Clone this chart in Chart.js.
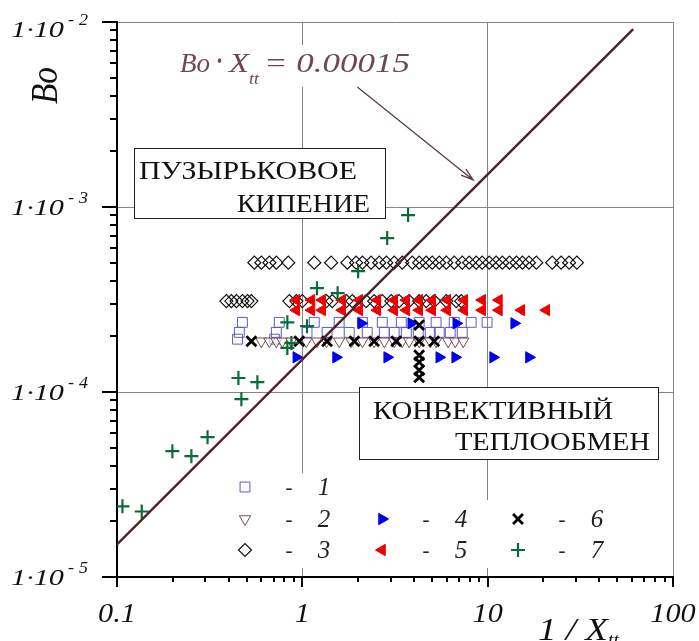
<!DOCTYPE html>
<html>
<head>
<meta charset="utf-8">
<script src="https://cdn.jsdelivr.net/npm/chart.js@4/dist/chart.umd.min.js"></script>
<style>
  html, body { margin: 0; padding: 0; background: #fff; }
  canvas { display: block; }
</style>
</head>
<body>
<canvas id="boChart" width="699" height="641"></canvas>
<script>
// 1 - squares
const sqX = [0.475, 0.751, 1.16, 1.58, 2.11, 2.70, 3.42, 4.27, 5.27, 6.60, 8.15, 9.93,
             0.457, 0.724, 1.06, 1.36, 1.79, 2.24, 2.77, 3.13, 3.64, 4.22, 4.90, 5.48, 6.28, 7.29,
             0.447, 0.709];
const sqY = [2.38e-4, 2.38e-4, 2.38e-4, 2.38e-4, 2.38e-4, 2.38e-4, 2.38e-4, 2.38e-4, 2.38e-4, 2.38e-4, 2.38e-4, 2.38e-4,
             2.10e-4, 2.10e-4, 2.10e-4, 2.10e-4, 2.10e-4, 2.10e-4, 2.10e-4, 2.10e-4, 2.10e-4, 2.10e-4, 2.10e-4, 2.10e-4, 2.10e-4, 2.10e-4,
             1.93e-4, 1.93e-4];
// 2 - triangles down
const triDX = [0.601, 0.664, 0.724, 0.780, 0.872, 1.05, 1.20, 1.35, 1.58, 1.84, 2.11, 2.44, 2.77, 3.13, 3.46, 3.77, 4.27, 4.90, 5.27, 6.12, 6.68, 7.38];
const triDY = [1.88e-4, 1.88e-4, 1.88e-4, 1.88e-4, 1.88e-4, 1.88e-4, 1.88e-4, 1.88e-4, 1.88e-4, 1.88e-4, 1.88e-4,
               1.88e-4, 1.88e-4, 1.88e-4, 1.88e-4, 1.88e-4, 1.88e-4, 1.88e-4, 1.88e-4, 1.88e-4, 1.88e-4, 1.88e-4];
// 3 - diamonds
const dmX = [0.551, 0.601, 0.664, 0.724, 0.840, 1.16, 1.43, 1.75, 1.95, 2.11, 2.35, 2.60, 2.84, 3.13, 3.46, 3.92, 4.27, 4.66, 5.02,
             5.48, 5.98, 6.60, 7.29, 7.95, 8.67, 9.34, 10.2, 11.1, 12.0, 13.1, 14.3, 15.4, 16.7, 18.3, 22.3, 24.9, 27.5, 30.3,
             0.389, 0.414, 0.441, 0.475, 0.506, 0.531, 0.851, 0.928, 1.00, 1.35, 1.45, 1.73, 1.86, 2.21, 2.44, 2.70, 3.02,
             3.33, 3.77, 4.27, 4.66, 5.15, 5.98, 6.77, 7.20];
const dmY = [5.0e-4, 5.0e-4, 5.0e-4, 5.0e-4, 5.0e-4, 5.0e-4, 5.0e-4, 5.0e-4, 5.0e-4, 5.0e-4, 5.0e-4, 5.0e-4, 5.0e-4, 5.0e-4, 5.0e-4,
             5.0e-4, 5.0e-4, 5.0e-4, 5.0e-4, 5.0e-4, 5.0e-4, 5.0e-4, 5.0e-4, 5.0e-4, 5.0e-4, 5.0e-4, 5.0e-4, 5.0e-4, 5.0e-4,
             5.0e-4, 5.0e-4, 5.0e-4, 5.0e-4, 5.0e-4, 5.0e-4, 5.0e-4, 5.0e-4, 5.0e-4,
             3.1e-4, 3.1e-4, 3.1e-4, 3.1e-4, 3.1e-4, 3.1e-4, 3.1e-4, 3.1e-4, 3.1e-4, 3.1e-4, 3.1e-4, 3.1e-4, 3.1e-4,
             3.1e-4, 3.1e-4, 3.1e-4, 3.1e-4, 3.1e-4, 3.1e-4, 3.1e-4, 3.1e-4, 3.1e-4, 3.1e-4, 3.1e-4, 3.1e-4];
// 4 - blue right triangles
const triRX = [0.928, 1.52, 2.87, 5.48, 6.68, 10.7, 16.7, 2.08, 3.87, 6.77, 13.9];
const triRY = [1.54e-4, 1.54e-4, 1.54e-4, 1.54e-4, 1.54e-4, 1.54e-4, 1.54e-4, 2.35e-4, 2.35e-4, 2.35e-4, 2.35e-4];
// 5 - red left triangles
const triLX = [0.928, 1.12, 1.28, 1.64, 2.03, 2.54, 3.13, 3.64, 4.27, 5.02, 6.05, 7.47, 9.34, 11.5,
               0.928, 1.12, 1.28, 1.64, 2.03, 2.54, 3.13, 3.64, 4.27, 5.02, 6.05, 7.47, 9.34, 11.5, 15.2, 20.7];
const triLY = [3.14e-4, 3.14e-4, 3.14e-4, 3.14e-4, 3.14e-4, 3.14e-4, 3.14e-4, 3.14e-4, 3.14e-4, 3.14e-4, 3.14e-4, 3.14e-4, 3.14e-4, 3.14e-4,
               2.77e-4, 2.77e-4, 2.77e-4, 2.77e-4, 2.77e-4, 2.77e-4, 2.77e-4, 2.77e-4, 2.77e-4, 2.77e-4, 2.77e-4, 2.77e-4, 2.77e-4, 2.77e-4, 2.77e-4, 2.77e-4];
// 6 - crosses x
const crX = [0.531, 0.963, 1.36, 1.91, 2.44, 3.21, 4.27, 5.15, 4.27, 4.27, 4.27, 4.27, 4.27];
const crY = [1.88e-4, 1.88e-4, 1.88e-4, 1.88e-4, 1.88e-4, 1.88e-4, 1.88e-4, 1.88e-4, 2.30e-4, 1.58e-4, 1.45e-4, 1.31e-4, 1.20e-4];
// 7 - plus
const plX = [0.107, 0.136, 0.199, 0.252, 0.308, 0.452, 0.572, 0.469, 0.830, 0.873, 0.830, 1.06, 1.20, 1.55, 2.00, 2.87, 3.72];
const plY = [2.41e-5, 2.26e-5, 4.79e-5, 4.50e-5, 5.70e-5, 1.19e-4, 1.13e-4, 9.14e-5, 1.73e-4, 1.84e-4, 2.38e-4, 2.27e-4,
             3.64e-4, 3.42e-4, 4.50e-4, 6.79e-4, 9.04e-4];
// Bo*Xtt = 0.00015
const lineX = [0.1, 61];
const lineY = [1.5e-5, 9.15e-3];

const xMajor = [0.1, 1, 10, 100];
const xTickLabels = ['0.1', '1', '10', '100'];
const yMajor = [1e-5, 1e-4, 1e-3, 1e-2];
const yTickBase = '1·10';
const yTickExp = ['5', '4', '3', '2'];
const legendNames = ['1', '2', '3', '4', '5', '6', '7'];

const SERIF = '"Liberation Serif", "Times New Roman", serif';
const pts = (xs, ys) => xs.map((v, i) => ({x: v, y: ys[i]}));

function logTicks(scale) {
  const ticks = [];
  const lo = Math.round(Math.log10(scale.min));
  const hi = Math.round(Math.log10(scale.max));
  for (let e = lo; e < hi; e++) {
    for (let k = 1; k <= 9; k++) ticks.push({value: k * Math.pow(10, e), major: k === 1});
  }
  ticks.push({value: Math.pow(10, hi), major: true});
  scale.ticks = ticks;
}

function fitText(ctx, str, x, y, w, font) {
  ctx.font = font;
  const m = ctx.measureText(str).width;
  ctx.save();
  ctx.translate(x, y);
  ctx.scale(w / m, 1);
  ctx.textAlign = 'left';
  ctx.textBaseline = 'alphabetic';
  ctx.fillText(str, 0, 0);
  ctx.restore();
}

function box(ctx, x, y, w, h) {
  ctx.fillStyle = '#fff';
  ctx.fillRect(x, y, w, h);
  ctx.strokeStyle = '#222';
  ctx.lineWidth = 1;
  ctx.strokeRect(x + 0.5, y + 0.5, w, h);
}

// белые подложки, рамки с надписями
const panels = {
  id: 'panels',
  beforeDatasetsDraw(chart) {
    const ctx = chart.ctx;
    ctx.save();
    ctx.fillStyle = '#fff';
    ctx.fillRect(226, 473, 120, 95);
    ctx.fillRect(360, 500, 256, 68);
    ctx.fillRect(176, 45, 240, 42);

    box(ctx, 134, 148, 251, 70);
    box(ctx, 359, 387, 299, 72);
    ctx.fillStyle = '#111';
    fitText(ctx, 'ПУЗЫРЬКОВОЕ', 139, 179, 218, '25px ' + SERIF);
    fitText(ctx, 'КИПЕНИЕ', 237, 212, 133, '25px ' + SERIF);
    fitText(ctx, 'КОНВЕКТИВНЫЙ', 373, 419, 240, '25px ' + SERIF);
    fitText(ctx, 'ТЕПЛООБМЕН', 455, 450, 195, '25px ' + SERIF);

    // уравнение
    ctx.fillStyle = '#6d4852';
    fitText(ctx, 'Bo', 180, 72, 30, 'italic 28px ' + SERIF);
    fitText(ctx, '·', 216, 70, 7, 'bold 30px ' + SERIF);
    fitText(ctx, 'X', 229, 72, 20, 'italic 28px ' + SERIF);
    fitText(ctx, 'tt', 249, 84, 10, 'italic 17px ' + SERIF);
    fitText(ctx, '= 0.00015', 264, 72, 146, 'italic 28px ' + SERIF);
    ctx.restore();
  },
  afterDraw(chart) {
    const {ctx, chartArea: ca} = chart;
    const xs = chart.scales.x, ys = chart.scales.y;
    ctx.save();
    // засечки
    ctx.strokeStyle = '#000';
    ctx.lineWidth = 2;
    ctx.beginPath();
    ys.ticks.forEach(t => {
      const py = Math.round(ys.getPixelForValue(t.value));
      ctx.moveTo(ca.left - (t.major ? 15 : 7), py);
      ctx.lineTo(ca.left, py);
    });
    xs.ticks.forEach(t => {
      const px = Math.round(xs.getPixelForValue(t.value));
      ctx.moveTo(px, ca.bottom);
      ctx.lineTo(px, ca.bottom + (t.major ? 10 : 5));
    });
    ctx.stroke();

    // подписи осей
    ctx.fillStyle = '#111';
    yMajor.forEach((v, i) => {
      const py = ys.getPixelForValue(v);
      const b = i === yMajor.length - 1 ? py + 15 : py + 8;
      fitText(ctx, yTickBase, 11, b, 53, 'italic 23px ' + SERIF);
      fitText(ctx, '-', 68, b - 12, 6, 'italic 16px ' + SERIF);
      fitText(ctx, yTickExp[i], 79, b - 12, 9, 'italic 16px ' + SERIF);
    });
    ctx.font = 'italic 27px ' + SERIF;
    ctx.textAlign = 'center';
    xMajor.forEach((v, i) => {
      const px = xs.getPixelForValue(v);
      ctx.save();
      ctx.translate(px, 622);
      ctx.scale(1.12, 1);
      ctx.fillText(xTickLabels[i], 0, 0);
      ctx.restore();
    });

    fitText(ctx, '1 / X', 538, 640, 70, 'italic 31px ' + SERIF);
    fitText(ctx, 'tt', 608, 646, 11, 'italic 18px ' + SERIF);

    ctx.save();
    ctx.translate(57, 104);
    ctx.rotate(-Math.PI / 2);
    ctx.scale(1, 1.25);
    fitText(ctx, 'Bo', 0, 0, 37, 'italic 30px ' + SERIF);
    ctx.restore();

    // стрелка
    const ax0 = xs.getPixelForValue(1.98), ay0 = ys.getPixelForValue(4.45e-3);
    const ax1 = xs.getPixelForValue(8.35), ay1 = ys.getPixelForValue(1.40e-3);
    const ang = Math.atan2(ay1 - ay0, ax1 - ax0);
    ctx.strokeStyle = '#5a3d42';
    ctx.lineWidth = 1.3;
    ctx.beginPath();
    ctx.moveTo(ax0, ay0);
    ctx.lineTo(ax1, ay1);
    ctx.moveTo(ax1 - 13 * Math.cos(ang - 0.3), ay1 - 13 * Math.sin(ang - 0.3));
    ctx.lineTo(ax1, ay1);
    ctx.lineTo(ax1 - 13 * Math.cos(ang + 0.3), ay1 - 13 * Math.sin(ang + 0.3));
    ctx.stroke();

    // легенда
    const slots = [[245, 487], [245, 519], [245, 550], [382, 519], [382, 550], [518, 519], [518, 550]];
    const dsIdx = [1, 2, 3, 4, 5, 6, 7];
    dsIdx.forEach((di, i) => {
      const ds = chart.data.datasets[di];
      const [lx, ly] = slots[i];
      ctx.save();
      ctx.fillStyle = ds.pointBackgroundColor;
      ctx.strokeStyle = ds.pointBorderColor;
      ctx.lineWidth = ds.pointBorderWidth;
      Chart.helpers.drawPoint(ctx, {
        pointStyle: ds.pointStyle, rotation: ds.pointRotation || 0,
        radius: ds.pointRadius, borderWidth: ds.pointBorderWidth
      }, lx, ly);
      ctx.restore();
      ctx.fillStyle = '#222';
      ctx.textAlign = 'center';
      ctx.font = '21px ' + SERIF;
      ctx.fillText('-', lx + 44, ly + 7);
      ctx.font = 'italic 25px ' + SERIF;
      ctx.fillText(legendNames[i], lx + 79, ly + 8);
    });
    ctx.restore();
  }
};

const ctx = document.getElementById('boChart').getContext('2d');

const data = {
  datasets: [
    {
      label: 'Bo·Xtt = 0.00015',
      data: pts(lineX, lineY),
      showLine: true,
      borderColor: '#4e2226',
      borderWidth: 2.5,
      pointRadius: 0,
      order: 0
    },
    {
      label: '1', data: pts(sqX, sqY), pointStyle: 'rect', pointRadius: 7,
      pointBackgroundColor: 'rgba(0,0,0,0)', pointBorderColor: '#5a5ad0', pointBorderWidth: 1, order: 6
    },
    {
      label: '2', data: pts(triDX, triDY), pointStyle: 'triangle', pointRotation: 180, pointRadius: 6.5,
      pointBackgroundColor: 'rgba(255,255,255,0.6)', pointBorderColor: '#7a4d4d', pointBorderWidth: 1, order: 5
    },
    {
      label: '3', data: pts(dmX, dmY), pointStyle: 'rectRot', pointRadius: 6.5,
      pointBackgroundColor: 'rgba(0,0,0,0)', pointBorderColor: '#111', pointBorderWidth: 1.2, order: 7
    },
    {
      label: '4', data: pts(triRX, triRY), pointStyle: 'triangle', pointRotation: 90, pointRadius: 6.5,
      pointBackgroundColor: '#0000ee', pointBorderColor: '#0000ee', pointBorderWidth: 1, order: 3
    },
    {
      label: '5', data: pts(triLX, triLY), pointStyle: 'triangle', pointRotation: -90, pointRadius: 6.5,
      pointBackgroundColor: '#ee0000', pointBorderColor: '#ee0000', pointBorderWidth: 1, order: 4
    },
    {
      label: '6', data: pts(crX, crY), pointStyle: 'crossRot', pointRadius: 7,
      pointBackgroundColor: '#000', pointBorderColor: '#000', pointBorderWidth: 2.8, order: 2
    },
    {
      label: '7', data: pts(plX, plY), pointStyle: 'cross', pointRadius: 7,
      pointBackgroundColor: '#0a6a3a', pointBorderColor: '#0a6a3a', pointBorderWidth: 2.2, order: 1
    }
  ]
};

const config = {
  type: 'scatter',
  data: data,
  options: {
    responsive: false,
    animation: false,
    devicePixelRatio: 1,
    layout: { padding: { left: 117, top: 22, right: 26, bottom: 64 } },
    plugins: {
      legend: { display: false },
      tooltip: { enabled: false }
    },
    scales: {
      x: {
        type: 'logarithmic',
        min: 0.1,
        max: 100,
        afterBuildTicks: logTicks,
        ticks: { display: false },
        grid: {
          drawTicks: false,
          color: c => (c.tick && c.tick.major) ? '#858585' : 'rgba(0,0,0,0)',
          lineWidth: 1
        },
        border: { display: true, color: '#000', width: 2 }
      },
      y: {
        type: 'logarithmic',
        min: 1e-5,
        max: 1e-2,
        afterBuildTicks: logTicks,
        ticks: { display: false },
        grid: {
          drawTicks: false,
          color: c => (c.tick && c.tick.major) ? '#858585' : 'rgba(0,0,0,0)',
          lineWidth: 1
        },
        border: { display: true, color: '#000', width: 2 }
      }
    }
  },
  plugins: [panels]
};

const boChart = new Chart(ctx, config);
</script>
</body>
</html>
